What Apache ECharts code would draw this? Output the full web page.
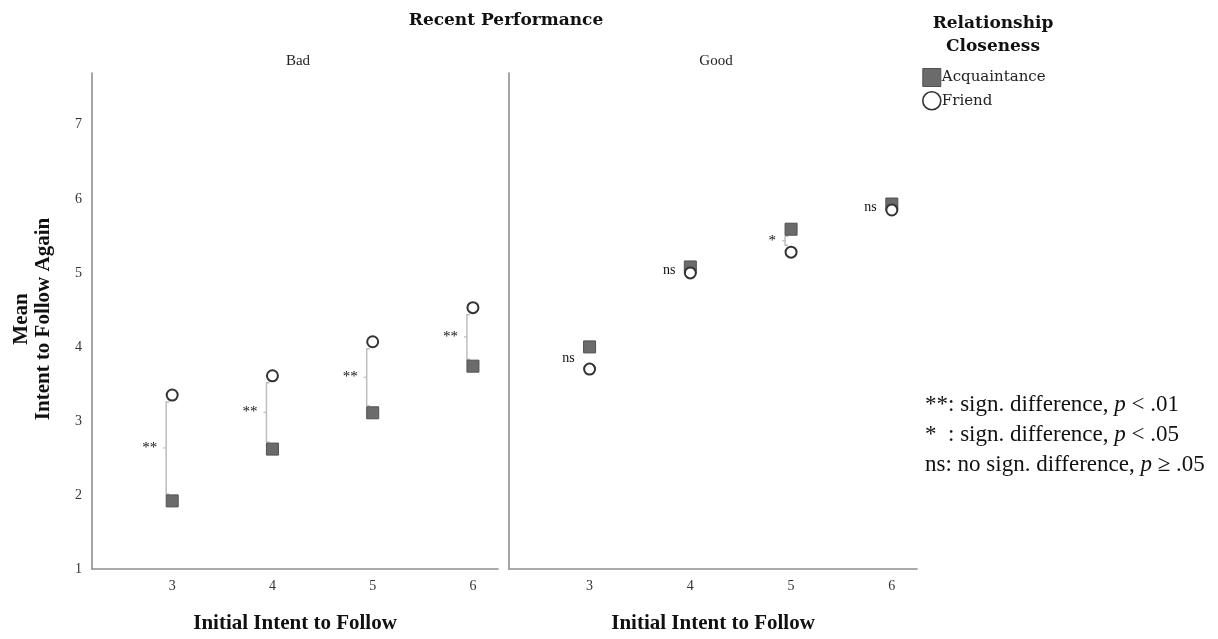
<!DOCTYPE html>
<html>
<head>
<meta charset="utf-8">
<script src="https://cdn.jsdelivr.net/npm/echarts@6/dist/echarts.min.js"></script>
<style>html,body{margin:0;padding:0;background:#fff}#c{width:1218px;height:639px}</style>
</head>
<body>
<div id="c"></div>
<script>
// ---- data ----
var initialIntent = [3, 4, 5, 6];
var badAcquaintance = [1.92, 2.62, 3.11, 3.74];
var badFriend = [3.35, 3.61, 4.07, 4.53];
var goodAcquaintance = [4.00, 5.08, 5.59, 5.93];
var goodFriend = [3.70, 5.00, 5.28, 5.85];
var badSig = ['**', '**', '**', '**'];
var goodSig = ['ns', 'ns', '*', 'ns'];
var yTicks = [1, 2, 3, 4, 5, 6, 7];
var panelNames = ['Bad', 'Good'];

function pairs(xs, ys) { return xs.map(function (x, i) { return [x, ys[i]]; }); }
function sigData(xs, a, f, s) { return xs.map(function (x, i) { return [x, f[i], a[i], s[i]]; }); }

var serif = 'Liberation Serif';
var wide = 'DejaVu Serif';

function bracketRender(params, api) {
  var x = api.value(0);
  var p1 = api.coord([x, api.value(1)]);
  var p2 = api.coord([x, api.value(2)]);
  var sig = api.value(3);
  var px = p1[0];
  var top = Math.min(p1[1], p2[1]), bot = Math.max(p1[1], p2[1]);
  var mid = (top + bot) / 2;
  var children = [];
  var bx = px - 6;
  var t = top + 7, b = bot - 7;
  if (sig !== 'ns' && b > t) {
    children.push({
      type: 'polyline',
      shape: { points: [[bx + 3, t], [bx, t], [bx, b], [bx + 3, b]] },
      style: { stroke: '#bdbdbd', lineWidth: 1.5, fill: null }
    });
    children.push({
      type: 'line',
      shape: { x1: bx, y1: mid, x2: bx - 3, y2: mid },
      style: { stroke: '#bdbdbd', lineWidth: 1.2 }
    });
  }
  children.push({
    type: 'text',
    x: px - 15, y: mid,
    style: {
      text: sig, textAlign: 'right', textVerticalAlign: 'middle',
      font: (sig === 'ns' ? '14px ' : '15px ') + serif, fill: '#111'
    }
  });
  return { type: 'group', children: children };
}

var chart = echarts.init(document.getElementById('c'));

var grids = [
  { left: 92, right: 720, top: 73, bottom: 70 },
  { left: 509, right: 301, top: 73, bottom: 70 }
];

function xAxis(i) {
  return {
    type: 'value', gridIndex: i, min: 2.2, max: 6.25,
    splitLine: { show: false },
    axisTick: { show: false },
    axisLine: { lineStyle: { color: '#8f8f8f', width: 1.6 } },
    axisLabel: {
      customValues: initialIntent,
      color: '#333', fontFamily: serif, fontSize: 14, margin: 10
    },
    name: 'Initial Intent to Follow', nameLocation: 'middle', nameGap: 44,
    nameTextStyle: { fontFamily: serif, fontWeight: 'bold', fontSize: 21, color: '#111' }
  };
}
function yAxis(i) {
  return {
    type: 'value', gridIndex: i, min: 1, max: 7.7, interval: 1,
    splitLine: { show: false },
    axisTick: { show: false },
    axisLine: { show: true, lineStyle: { color: '#8f8f8f', width: 1.6 } },
    axisLabel: {
      show: i === 0, color: '#333', fontFamily: serif, fontSize: 14, margin: 10,
      formatter: function (v) { return yTicks.indexOf(v) >= 0 ? String(v) : ''; }
    }
  };
}

var acqStyle = { color: '#6b6b6b', borderColor: '#505050', borderWidth: 1, opacity: 1 };
var friendStyle = { color: '#fff', borderColor: '#333', borderWidth: 2, opacity: 1 };

var series = [];
[[badAcquaintance, badFriend, badSig], [goodAcquaintance, goodFriend, goodSig]].forEach(function (d, i) {
  series.push({
    type: 'custom', xAxisIndex: i, yAxisIndex: i, renderItem: bracketRender,
    data: sigData(initialIntent, d[0], d[1], d[2]), encode: { x: 0, y: [1, 2] }, z: 1, silent: true
  });
  series.push({
    name: 'Acquaintance', type: 'scatter', xAxisIndex: i, yAxisIndex: i,
    symbol: 'rect', symbolSize: 12, itemStyle: acqStyle, data: pairs(initialIntent, d[0]), z: 2
  });
  series.push({
    name: 'Friend', type: 'scatter', xAxisIndex: i, yAxisIndex: i,
    symbol: 'circle', symbolSize: 11, itemStyle: friendStyle, data: pairs(initialIntent, d[1]), z: 3
  });
});

var noteRich = {
  a: { fontFamily: serif, fontSize: 23, fontWeight: 'normal', color: '#111', lineHeight: 30 },
  i: { fontFamily: serif, fontSize: 23, fontWeight: 'normal', fontStyle: 'italic', color: '#111', lineHeight: 30 }
};

chart.setOption({
  animation: false,
  backgroundColor: '#fff',
  grid: grids,
  xAxis: [xAxis(0), xAxis(1)],
  yAxis: [yAxis(0), yAxis(1)],
  series: series,
  legend: {
    data: [
      { name: 'Acquaintance', icon: 'rect', itemStyle: acqStyle },
      { name: 'Friend', icon: 'circle', itemStyle: { color: '#fff', borderColor: '#333', borderWidth: 1.6 } }
    ],
    orient: 'vertical', left: 917, top: 63, itemWidth: 18, itemHeight: 18, itemGap: 4,
    textStyle: { fontFamily: wide, fontSize: 15, color: '#222', padding: [0, 0, 0, -4] },
    selectedMode: false
  },
  title: [
    { text: 'Recent Performance', left: 501, top: 7, textAlign: 'center',
      textStyle: { fontFamily: wide, fontWeight: 'bold', fontSize: 17, color: '#111' } },
    { text: 'Relationship\nCloseness', left: 988, top: 7, textAlign: 'center',
      textStyle: { fontFamily: wide, fontWeight: 'bold', fontSize: 17, color: '#111', lineHeight: 23 } },
    { text: panelNames[0], left: 293, top: 49, textAlign: 'center',
      textStyle: { fontFamily: serif, fontWeight: 'normal', fontSize: 15, color: '#222' } },
    { text: panelNames[1], left: 711, top: 49, textAlign: 'center',
      textStyle: { fontFamily: serif, fontWeight: 'normal', fontSize: 15, color: '#222' } },
    { text: '{a|**: sign. difference, }{i|p}{a| < .01}\n{a|*  : sign. difference, }{i|p}{a| < .05}\n{a|ns: no sign. difference, }{i|p}{a| ≥ .05}',
      left: 920, top: 385, textStyle: { fontWeight: 'normal', rich: noteRich } }
  ],
  graphic: [
    { type: 'text', x: 33, y: 319, rotation: Math.PI / 2,
      style: { text: 'Mean\nIntent to Follow Again', textAlign: 'center', textVerticalAlign: 'middle',
               font: 'bold 21px ' + serif, fill: '#111', lineHeight: 22 } }
  ]
});
</script>
</body>
</html>
